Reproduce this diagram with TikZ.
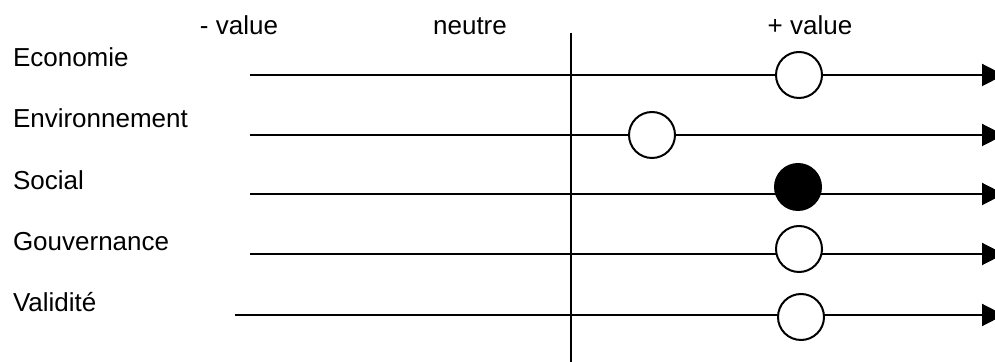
\documentclass[tikz,border=0pt]{standalone}
\usepackage{fontspec}
\setmainfont{Liberation Sans}
\usetikzlibrary{arrows.meta,positioning}
\tikzset{value node/.style={circle,fill=white,draw,line width=1pt,minimum size=23pt,inner sep=0pt},
         every node/.style={font=\fontsize{13}{15}\selectfont},
         axis label/.style={rectangle,draw=none,fill=none,inner sep=0pt,anchor=base west},
         scale label/.style={rectangle,draw=none,fill=none,inner sep=0pt,anchor=base}
}

\begin{document}
\begin{tikzpicture}[->,>={Triangle[length=11pt,width=11pt]},
x=0.5pt, y=-0.5pt,
line width=1pt]
\useasboundingbox (0,0) rectangle (995,362);
% scale labels on top
\node [scale label] (minus) at (239,35) {- value};
\node [scale label] (neutre) at (470,35) {neutre};
\node [scale label] (plus) at (810,35) {+ value};
% row labels
\node [axis label] (eco) at (12,67) {Economie};
\node [axis label] (env) at (12,128) {Environnement};
\node [axis label] (soc) at (12,190) {Social};
\node [axis label] (gov) at (12,251) {Gouvernance};
\node [axis label] (val) at (12,312) {Validité};
% ends of the scales
\coordinate (eco start) at (250,75);
\coordinate (eco end) at (1004,75);
\coordinate (env start) at (250,135);
\coordinate (env end) at (1004,135);
\coordinate (soc start) at (250,194);
\coordinate (soc end) at (1004,194);
\coordinate (gov start) at (250,254);
\coordinate (gov end) at (1004,254);
\coordinate (val start) at (235,315);
\coordinate (val end) at (1004,315);
\coordinate (mid top) at (571,33);
\coordinate (mid bottom) at (571,362);
\draw [-] (mid top) -- (mid bottom);
\draw (eco start) -- (eco end);
\draw (env start) -- (env end);
\draw (soc start) -- (soc end);
\draw (gov start) -- (gov end);
\draw (val start) -- (val end);
% marks
\node [value node] (eco mark) at (799,75) {};
\node [value node] (env mark) at (652,135) {};
\node [value node, fill=black] (soc mark) at (798,187) {};
\node [value node] (gov mark) at (799,249) {};
\node [value node] (val mark) at (801,317) {};
\end{tikzpicture}
\end{document}
